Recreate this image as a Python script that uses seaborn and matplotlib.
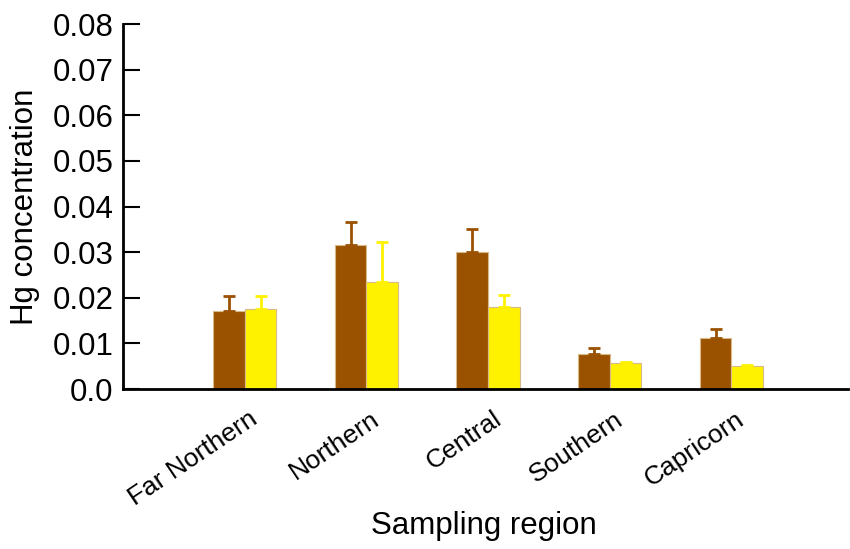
import matplotlib
matplotlib.use("Agg")
import matplotlib.pyplot as plt
import seaborn as sns
import pandas as pd
import numpy as np

regions = ["Far Northern", "Northern", "Central", "Southern", "Capricorn"]
series = ["A", "B"]
mean_a = [0.0171, 0.0316, 0.0301, 0.0076, 0.0111]
mean_b = [0.0175, 0.0235, 0.0180, 0.0056, 0.0051]
err_a = [0.0033, 0.0050, 0.0049, 0.0015, 0.0020]
err_b = [0.0029, 0.0087, 0.0026, 0.0004, 0.0001]
colors = ["#9A5200", "#FFF200"]

df = pd.DataFrame({
    "region": regions * 2,
    "series": [series[0]] * 5 + [series[1]] * 5,
    "value": mean_a + mean_b,
})

sns.set_theme(style="white")
plt.rcParams["font.family"] = ["Liberation Sans", "DejaVu Sans"]
plt.rcParams["text.color"] = "black"

fig = plt.figure(figsize=(8.5, 5.49), dpi=100)
ax = fig.add_axes([0.1447, 0.2914, 0.8533, 0.6646])

sns.barplot(data=df, x="region", y="value", hue="series", order=regions,
            hue_order=series, palette=colors, width=0.52, errorbar=None,
            saturation=1, ax=ax, legend=False, linewidth=0.8, edgecolor="#d9b98a")

patches = ax.patches
errs = [err_a, err_b]
means = [mean_a, mean_b]
for si in range(2):
    for ri in range(5):
        p = patches[si * 5 + ri]
        cx = p.get_x() + p.get_width() / 2
        ax.errorbar(cx, means[si][ri], yerr=[[0], [errs[si][ri]]], fmt="none",
                    ecolor=colors[si], elinewidth=2, capsize=4, capthick=2, zorder=3)

ax.set_xlim(-1.0, 4.96)
ax.set_ylim(0, 0.08)
ax.set_yticks(np.arange(0, 0.081, 0.01))
ax.set_yticklabels(["0.0", "0.01", "0.02", "0.03", "0.04", "0.05", "0.06", "0.07", "0.08"])
ax.tick_params(axis="y", direction="in", length=12, width=1.5, labelsize=22.5, pad=7,
               left=True, colors="black", labelcolor="black")
ax.tick_params(axis="x", length=0, labelsize=19, pad=13, labelcolor="black")
plt.setp(ax.get_xticklabels(), rotation=34, ha="right", rotation_mode="anchor")
for lab in ax.get_xticklabels():
    lab.set_transform(lab.get_transform() + matplotlib.transforms.ScaledTranslation(0.04, 0, fig.dpi_scale_trans))

for s in ["top", "right"]:
    ax.spines[s].set_visible(False)
for s in ["left", "bottom"]:
    ax.spines[s].set_color("black")
    ax.spines[s].set_linewidth(2)

ax.set_xlabel("Sampling region", fontsize=22.5, color="black")
ax.xaxis.set_label_coords(0.498, -0.335)
ax.set_ylabel("Hg concentration", fontsize=22.5, labelpad=9, color="black")

fig.savefig("out.png", dpi=100)
